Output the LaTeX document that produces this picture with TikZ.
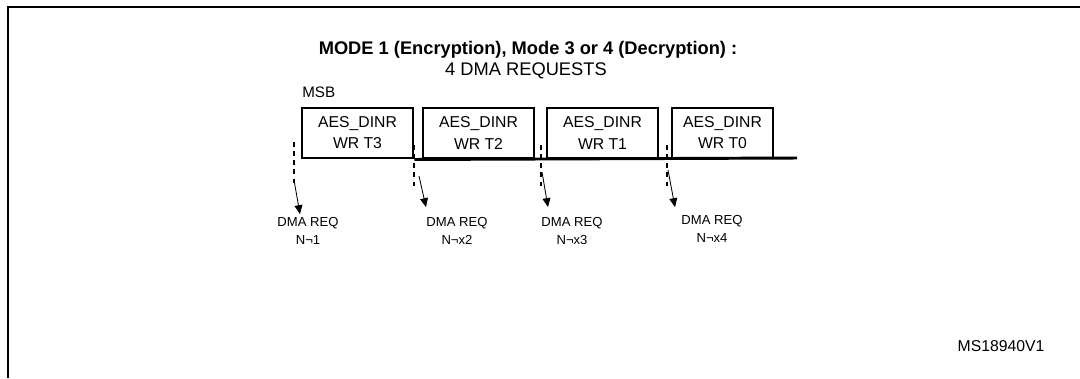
\documentclass[tikz,border=0pt]{standalone}
\usepackage{fontspec}
\setmainfont{Liberation Sans}
\usepackage{tikz}
\usetikzlibrary{arrows.meta,positioning,calc}
\definecolor{inkblack}{RGB}{0,0,0}
\tikzset{
  wr/.style={rectangle,draw=inkblack,line width=2.1pt,minimum width=#1,minimum height=1.25cm,
    align=center,inner sep=0pt,font=\fontsize{11.2}{15}\selectfont},
  wr/.default=2.775cm,
  arr/.style={-{Triangle[length=6.4pt,width=5.6pt]},line width=0.6pt,color=inkblack},
  tickline/.style={dash pattern=on 3.5pt off 3pt,line width=1.2pt,color=inkblack},
  req/.style={align=center,inner sep=0pt,font=\fontsize{9.3}{12.8}\selectfont},
  baseline/.style={line width=2.1pt,color=inkblack},
  frameline/.style={line width=2pt,color=inkblack}
}

\begin{document}
\begin{tikzpicture}[x=0.025cm,y=-0.025cm]
    \useasboundingbox (0,0) rectangle (1080,378);
    % Frame
    \coordinate (fl) at (8,378);
    \coordinate (fc) at (8,7);
    \coordinate (fr) at (1080,7);
    \draw[frameline] (fl) -- (fc) -- (fr);

    % Heading
    \node[font=\bfseries\fontsize{13}{15}\selectfont] (title) at (528,50) {MODE 1 (Encryption), Mode 3 or 4 (Decryption) :};
    \node[font=\fontsize{13}{15}\selectfont] (sub) at (526,71) {4 DMA REQUESTS};
    \node[font=\fontsize{10.8}{13}\selectfont,anchor=west,inner sep=0pt] (msb) at (302,92) {MSB};

    % Data words
    \node[wr] (t3) at (357.5,133) {AES\_DINR\\WR T3};
    \node[wr] (t2) at (478.5,133) {AES\_DINR\\WR T2};
    \node[wr] (t1) at (602.5,133) {AES\_DINR\\WR T1};
    \node[wr=2.525cm] (t0) at (722.5,133) {AES\_DINR\\WR T0};
    \coordinate (lineend) at (797,158);
    \draw[baseline] (t3.south east) -- (lineend);

    % Request edges
    \coordinate (d1a) at (294,142);
    \coordinate (d1b) at (294,186);
    \coordinate (d2a) at (414,145);
    \coordinate (d2b) at (414,186);
    \coordinate (d3a) at (541,145);
    \coordinate (d3b) at (541,188);
    \coordinate (d4a) at (667,145);
    \coordinate (d4b) at (667,190);
    \draw[tickline] (d1a) -- (d1b);
    \draw[tickline] (d2a) -- (d2b);
    \draw[tickline] (d3a) -- (d3b);
    \draw[tickline] (d4a) -- (d4b);

    % Request labels
    \node[req] (q1) at (308,231) {DMA REQ\\N¬1};
    \node[req] (q2) at (457,231) {DMA REQ\\N¬x2};
    \node[req] (q3) at (572,231) {DMA REQ\\N¬x3};
    \node[req] (q4) at (712,229) {DMA REQ\\N¬x4};

    % Arrows
    \coordinate (a1) at (294,180);
    \coordinate (a2) at (419,176);
    \coordinate (a3) at (542,172);
    \coordinate (a4) at (668,170);
    \draw[arr] (a1) -- ($(q1.north)+(-8,-3)$);
    \draw[arr] (a2) -- ($(q2.north)+(-31,-10)$);
    \draw[arr] (a3) -- ($(q3.north)+(-24,-10)$);
    \draw[arr] (a4) -- ($(q4.north)+(-37,-8)$);

    % Reference
    \node[font=\fontsize{11.2}{13}\selectfont] (ref) at (1001,346) {MS18940V1};
\end{tikzpicture}
\end{document}
